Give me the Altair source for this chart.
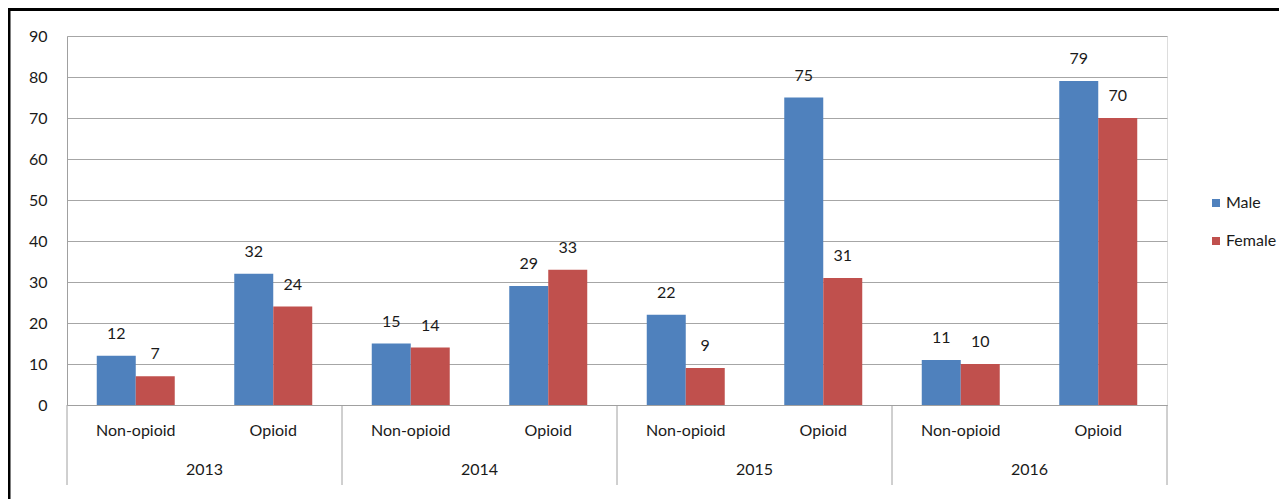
import altair as alt
import pandas as pd

years = ["2013", "2014", "2015", "2016"]
drugs = ["Non-opioid", "Opioid"]
genders = ["Male", "Female"]
male = [12, 32, 15, 29, 22, 75, 11, 79]
female = [7, 24, 14, 33, 9, 31, 10, 70]
colors = ["#4F81BD", "#C0504D"]
y_ticks = [0, 10, 20, 30, 40, 50, 60, 70, 80, 90]

keys = [f"{y}|{d}" for y in years for d in drugs]
rows = []
for i, k in enumerate(keys):
    rows.append({"key": k, "gender": "Male", "value": male[i]})
    rows.append({"key": k, "gender": "Female", "value": female[i]})
df = pd.DataFrame(rows)

year_df = pd.DataFrame({"key": [f"{y}|Opioid" for y in years], "year": years})
div_df = pd.DataFrame({"key": [f"{y}|Non-opioid" for y in years]})
end_df = pd.DataFrame({"key": [keys[-1]]})

FONT = "Lato"
FS = 16
TXT = "#1a1a1a"
W, H = 1100, 369

xscale = alt.Scale(domain=keys, paddingInner=0, paddingOuter=0)
x_enc = alt.X("key:N", sort=keys, scale=xscale,
              axis=alt.Axis(title=None, labelExpr="split(datum.label, '|')[1]",
                            labelAngle=0, ticks=False, domainColor="#A0A0A0",
                            labelFontSize=FS, labelFont=FONT, labelColor=TXT,
                            labelPadding=17))
xoff = alt.XOffset("gender:N", sort=genders,
                   scale=alt.Scale(paddingOuter=0.763, paddingInner=0))
y_enc = alt.Y("value:Q", scale=alt.Scale(domain=[0, 90], nice=False),
              axis=alt.Axis(title=None, values=y_ticks, ticks=False,
                            gridColor="#A6A6A6", domainColor="#A0A0A0",
                            labelFontSize=FS, labelFont=FONT, labelColor=TXT,
                            labelPadding=20))

bars = alt.Chart(df).mark_bar().encode(
    x=x_enc, xOffset=xoff, y=y_enc,
    color=alt.Color("gender:N", sort=genders,
                    scale=alt.Scale(domain=genders, range=colors),
                    legend=alt.Legend(title=None, orient="none", legendX=1141,
                                      legendY=159, symbolType="square",
                                      symbolSize=64, symbolStrokeWidth=0,
                                      labelFontSize=FS, labelFont=FONT,
                                      labelColor=TXT, rowPadding=22,
                                      labelOffset=2)),
)

labels = alt.Chart(df).mark_text(baseline="middle", dy=-22, fontSize=FS,
                                 font=FONT, color=TXT).encode(
    x=alt.X("key:N", sort=keys), xOffset=xoff, y="value:Q", text="value:Q"
)

year_text = alt.Chart(year_df).mark_text(baseline="middle", fontSize=FS,
                                         font=FONT, color=TXT).encode(
    x=alt.X("key:N", sort=keys, bandPosition=0),
    y=alt.value(H + 65), text="year:N"
)

dividers = alt.Chart(div_df).mark_rule(color="#A0A0A0").encode(
    x=alt.X("key:N", sort=keys, bandPosition=0),
    y=alt.value(H), y2=alt.value(H + 80)
)
end_div = alt.Chart(end_df).mark_rule(color="#A0A0A0").encode(
    x=alt.X("key:N", sort=keys, bandPosition=1),
    y=alt.value(H), y2=alt.value(H + 80)
)

frame_l = alt.Chart(end_df).mark_rule(color="black", strokeWidth=3).encode(
    x=alt.value(-58), y=alt.value(-28), y2=alt.value(H + 95))
frame_r = alt.Chart(end_df).mark_rule(color="black", strokeWidth=3).encode(
    x=alt.value(1214.5), y=alt.value(-28), y2=alt.value(H + 95))
frame_t = alt.Chart(end_df).mark_rule(color="black", strokeWidth=3).encode(
    x=alt.value(-59), x2=alt.value(1216), y=alt.value(-26.5))

chart = alt.layer(bars, labels, year_text, dividers, end_div,
                  frame_l, frame_r, frame_t).properties(
    width=W, height=H,
    autosize=alt.AutoSizeParams(type="none"),
    padding={"left": 59, "top": 28, "right": 112, "bottom": 94},
).configure_view(stroke=None).configure(background="white")

chart.save("out.html", embed_options={"renderer": "svg", "actions": False})
